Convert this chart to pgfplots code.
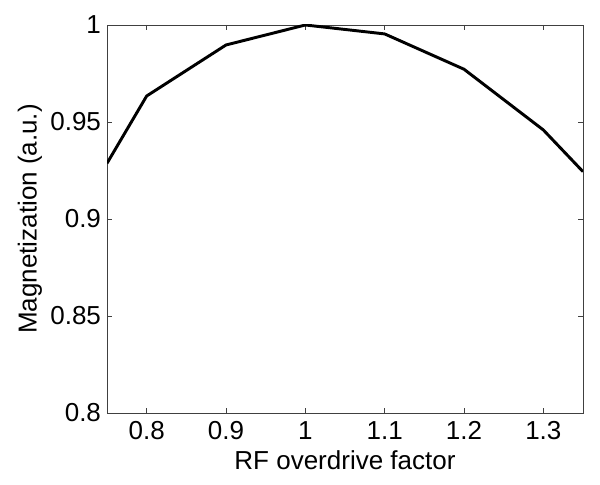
\documentclass[border=0pt]{standalone}
\usepackage{pgfplots}
\pgfplotsset{compat=1.18}
\usepackage{fontspec}
\setmainfont{Liberation Sans}
\begin{document}
\begin{tikzpicture}
\begin{axis}[
  name=ax,
  scale only axis,
  width=357pt, height=291pt,
  xmin=0.75, xmax=1.35, ymin=0.8, ymax=1,
  xtick={0.8,0.9,1,1.1,1.2,1.3},
  xticklabels={0.8,0.9,1,1.1,1.2,1.3},
  ytick={0.8,0.85,0.9,0.95,1},
  yticklabels={0.8,0.85,0.9,0.95,1},
  tick align=inside,
  major tick length=3.5pt,
  axis line style={black!75, line width=0.6pt},
  tick style={black!75, line width=0.6pt},
  tick label style={font=\fontsize{19.5}{23}\selectfont, text=black},
  label style={font=\fontsize{19.5}{23}\selectfont},
  xticklabel style={yshift=-3pt},
  yticklabel style={xshift=-1pt},
  xlabel={RF overdrive factor},
  ylabel={Magnetization (a.u.)},
  xlabel style={at={(axis description cs:0.5,-0.121)}, anchor=center},
  ylabel style={at={(axis description cs:-0.162,0.5)}, anchor=center},
]
\addplot[black, line width=2.2pt, line join=round] coordinates {
  (0.75,0.9287) (0.8,0.9634) (0.9,0.9897) (1.0,1.0) (1.1,0.9954)
  (1.2,0.9772) (1.3,0.9459) (1.35,0.9244)
};
\end{axis}
\pgfresetboundingbox
\path ([shift={(-80.25pt,-53.25pt)}]ax.south west) rectangle ([shift={(12.75pt,18.75pt)}]ax.north east);
\end{tikzpicture}
\end{document}
